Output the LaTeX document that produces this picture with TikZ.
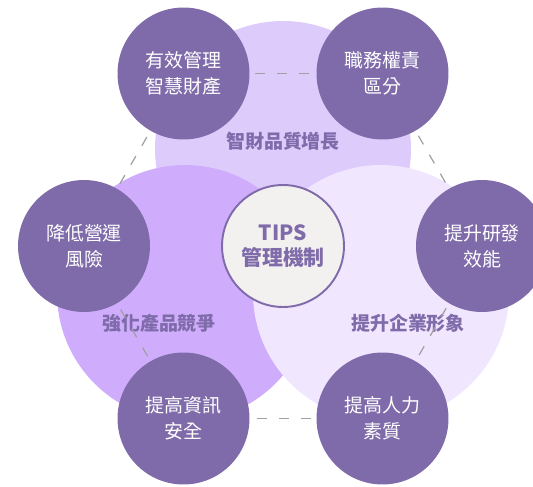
\documentclass[tikz,border=0pt]{standalone}
\usepackage{fontspec}
\setmainfont{Noto Sans CJK TC}
\usetikzlibrary{positioning}
\definecolor{plum}{HTML}{7F6BAA}
\definecolor{lilactop}{HTML}{DDCBFC}
\definecolor{lilacleft}{HTML}{CFADFC}
\definecolor{lilacright}{HTML}{F0E6FE}
\definecolor{hubgray}{HTML}{F2F1F0}
\definecolor{dashgray}{HTML}{A0A0A0}
\tikzset{
  goal/.style={circle, fill=plum, minimum size=2.64cm, inner sep=0pt, text=white,
    align=center, font=\fontsize{10.8}{14.7}\selectfont},
  hub/.style={circle, draw=plum, line width=1.1pt, fill=hubgray, minimum size=2.44cm,
    inner sep=0pt, text=plum, align=center, font=\fontsize{11.9}{14.2}\selectfont\bfseries},
  vennlabel/.style={text=plum, font=\fontsize{10.8}{13}\selectfont\bfseries},
  link/.style={draw=dashgray, line width=0.7pt, dash pattern=on 5.7pt off 6.8pt,
    shorten <=0.11cm, shorten >=0.11cm}
}

\begin{document}
\begin{tikzpicture}[x=0.02cm, y=-0.02cm]

\useasboundingbox (0,0) rectangle (533,486);

% three overlapping areas
\fill[lilactop] (283,149) circle[radius=2.56cm];
\fill[lilacleft] (185,293) circle[radius=2.56cm];
\fill[lilacright] (381,293) circle[radius=2.56cm];

\node[vennlabel] (quality) at (283,141) {智財品質增長};
\node[vennlabel] (compete) at (159,323) {強化產品競爭};
\node[vennlabel] (image) at (408,323) {提升企業形象};

% outer ring
\coordinate (tl) at (183.5,73.5);
\coordinate (tr) at (382.5,73.5);
\coordinate (ml) at (84,246);
\coordinate (mr) at (482,246);
\coordinate (bl) at (183.5,418.5);
\coordinate (br) at (382.5,418.5);

\node[goal] (ipmanage) at (tl) {有效管理\\智慧財產};
\node[goal] (duty) at (tr) {職務權責\\區分};
\node[goal] (risk) at (ml) {降低營運\\風險};
\node[goal] (rnd) at (mr) {提升研發\\效能};
\node[goal] (infosec) at (bl) {提高資訊\\安全};
\node[goal] (staff) at (br) {提高人力\\素質};

\draw[link] (ipmanage) -- (duty);
\draw[link] (duty) -- (rnd);
\draw[link] (rnd) -- (staff);
\draw[link] (staff) -- (infosec);
\draw[link] (infosec) -- (risk);
\draw[link] (risk) -- (ipmanage);

\node[hub] (tips) at (283,246) {TIPS\\管理機制};

\end{tikzpicture}
\end{document}
